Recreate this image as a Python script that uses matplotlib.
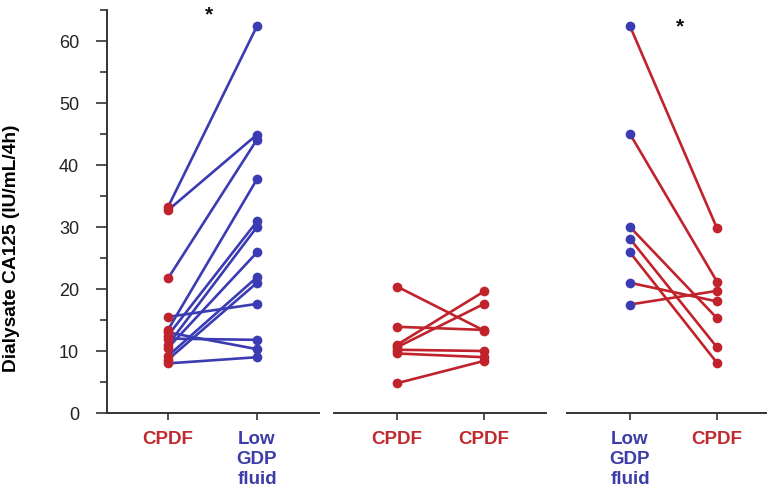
import matplotlib
matplotlib.use("Agg")
import matplotlib.pyplot as plt
from matplotlib.ticker import MultipleLocator

plt.rcParams['font.family'] = ['Liberation Sans', 'DejaVu Sans']

# ---- data ----
left_cpdf = [33.2, 32.7, 21.7, 15.5, 13.4, 13.0, 12.5, 12.0, 11.0, 10.5, 9.2, 8.6, 8.0]
left_low = [62.4, 44.9, 44.1, 17.6, 37.7, 10.3, 30.9, 11.8, 30.0, 25.9, 21.9, 21.0, 9.0]
mid_first = [20.4, 13.9, 11.0, 10.6, 10.2, 9.6, 4.8]
mid_second = [13.3, 13.4, 19.6, 17.6, 10.0, 9.0, 8.4]
right_low = [62.4, 45.0, 30.0, 28.1, 25.9, 21.0, 17.5]
right_cpdf = [29.8, 21.2, 15.3, 10.6, 8.1, 18.0, 19.7]

groups = [
    (left_cpdf, left_low, ["CPDF", "Low\nGDP\nfluid"], ["red", "blue"], "blue"),
    (mid_first, mid_second, ["CPDF", "CPDF"], ["red", "red"], "red"),
    (right_low, right_cpdf, ["Low\nGDP\nfluid", "CPDF"], ["blue", "red"], "red"),
]
stars = [(0.46, 64.2), None, (0.58, 62.2)]
ylabel = "Dialysate CA125 (IU/mL/4h)"
yticks = [0, 10, 20, 30, 40, 50, 60]

RED = "#c0232b"
BLUE = "#3b3bb3"
cmap = {"red": RED, "blue": BLUE}
TXT_RED = "#c02a2f"
TXT_BLUE = "#3d3da8"
tcmap = {"red": TXT_RED, "blue": TXT_BLUE}

W, H = 767, 488
fig = plt.figure(figsize=(W / 100, H / 100), dpi=100)

# axes placement in pixels: (left, right, xlim)
boxes = [
    (107, 319, (-0.685, 1.697)),
    (334, 546, (-0.724, 1.713)),
    (567, 767, (-0.724, 1.575)),
]
bottom_px = 413
ppu = 6.2
ytop = 65
height_px = ytop * ppu

for i, ((a, b, labels, pcols, lcol), (l, r, xl)) in enumerate(zip(groups, boxes)):
    ax = fig.add_axes([l / W, 1 - bottom_px / H, (r - l) / W, height_px / H])
    ax.set_xlim(*xl)
    ax.set_ylim(0, ytop)
    for va, vb in zip(a, b):
        ax.plot([0, 1], [va, vb], color=cmap[lcol], lw=1.9, zorder=2, solid_capstyle='round')
    ax.plot([0] * len(a), a, 'o', color=cmap[pcols[0]], ms=7, zorder=3, mec='none')
    ax.plot([1] * len(b), b, 'o', color=cmap[pcols[1]], ms=7, zorder=3, mec='none')
    for s in ['top', 'right']:
        ax.spines[s].set_visible(False)
    ax.spines['bottom'].set_color('#333333')
    ax.spines['bottom'].set_linewidth(1.4)
    ax.set_xticks([0, 1])
    ax.set_xticklabels(labels, fontsize=13.5, fontweight='bold', va='top', linespacing=1.22)
    for t, c in zip(ax.get_xticklabels(), pcols):
        t.set_color(tcmap[c])
    ax.tick_params(axis='x', direction='out', length=5, width=1.2, color='#333333', pad=8)
    if i == 0:
        ax.spines['left'].set_color('#333333')
        ax.spines['left'].set_linewidth(1.4)
        ax.set_yticks(yticks)
        ax.yaxis.set_minor_locator(MultipleLocator(5))
        ax.tick_params(axis='y', which='major', direction='out', length=8, width=1.2,
                       color='#333333', labelsize=13, labelcolor='#222222', pad=12)
        ax.tick_params(axis='y', which='minor', direction='out', length=5, width=1.2,
                       color='#333333')
        ax.set_ylabel(ylabel, fontsize=13.8, fontweight='bold')
        ax.yaxis.set_label_coords(-0.41, 0.41)
    else:
        ax.spines['left'].set_visible(False)
        ax.set_yticks([])
    if stars[i] is not None:
        ax.text(stars[i][0], stars[i][1], "*", fontsize=15, fontweight='bold',
                ha='center', va='center', color='#111111', clip_on=False)
    ax.set_facecolor('none')

fig.savefig("out.png", dpi=100, facecolor='white')
